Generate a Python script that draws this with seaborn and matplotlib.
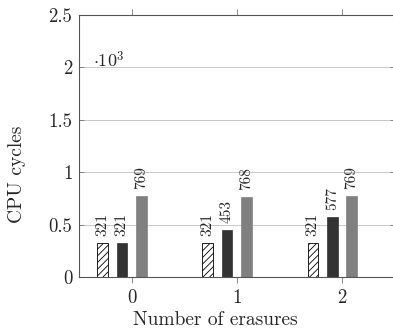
import pandas as pd
import matplotlib
matplotlib.use('Agg')
import matplotlib.pyplot as plt
from matplotlib.ticker import FuncFormatter
import seaborn as sns

# Datos (ciclos de CPU)
erasures = [0, 1, 2]
series_names = ['series 1', 'series 2', 'series 3']
hatched_cycles = [321, 321, 321]
dark_cycles = [321, 453, 577]
gray_cycles = [769, 768, 769]
y_ticks = [0, 500, 1000, 1500, 2000, 2500]

sns.set_style('white')
plt.rcParams['font.family'] = ['serif']
plt.rcParams['font.serif'] = ['cmr10']
plt.rcParams['mathtext.fontset'] = 'cm'
plt.rcParams['axes.formatter.use_mathtext'] = True
plt.rcParams['hatch.linewidth'] = 0.6

# Tabla larga para seaborn
rows = []
for name, values in zip(series_names, [hatched_cycles, dark_cycles, gray_cycles]):
    for e, v in zip(erasures, values):
        rows.append({'erasures': e, 'cycles': v, 'serie': name})
df = pd.DataFrame(rows)

# cuarta serie vacia: pgfplots reserva su hueco
hue_order = series_names + ['series 4']
palette = {'series 1': 'white', 'series 2': '#333333', 'series 3': '#808080', 'series 4': 'white'}

fig = plt.figure(figsize=(3.93, 3.30), dpi=100)
ax = fig.add_axes([79 / 393, 53 / 330, 315.5 / 393, 262 / 330])

sns.barplot(data=df, x='erasures', y='cycles', hue='serie', hue_order=hue_order,
            palette=palette, saturation=1, width=0.736, gap=0.445, legend=False, ax=ax)

for i, cont in enumerate(ax.containers):
    for p in cont:
        if i == 0:
            p.set_facecolor('white')
            p.set_edgecolor('black')
            p.set_linewidth(0.6)
            p.set_hatch('/////')
        else:
            p.set_edgecolor(p.get_facecolor())
            p.set_linewidth(0.5)
    ax.bar_label(cont, fmt='%d', rotation=90, padding=5, fontsize=11)

ax.set_xlim(-0.5, 2.5)
ax.set_ylim(0, 2500)
ax.set_yticks(y_ticks)
ax.yaxis.set_major_formatter(FuncFormatter(lambda v, pos: f'{v / 1000:g}'))
ax.grid(axis='y', color='#c8c8c8', linewidth=0.7)
ax.set_axisbelow(True)

ax.tick_params(axis='x', direction='out', length=4.5, width=0.6, color='#777777',
               top=True, bottom=True, labelsize=13.5, pad=4)
ax.tick_params(axis='y', direction='in', length=3.5, width=0.6, color='#777777',
               left=True, right=True, labelsize=13.5, pad=4.8)
for s in ax.spines.values():
    s.set_color('#555555')
    s.set_linewidth(0.8)
ax.spines['right'].set_visible(False)

ax.set_xlabel('Number of erasures', fontsize=14)
ax.set_ylabel('CPU cycles', fontsize=14)
ax.xaxis.set_label_coords(0.431, -0.166)
ax.xaxis.label.set_va('center')
ax.yaxis.set_label_coords(-0.195, 0.393)
ax.yaxis.label.set_va('center')
ax.text(0.044, 0.80, r'$\cdot 10^3$', transform=ax.transAxes, fontsize=13, va='baseline')

fig.savefig('out.png', dpi=100)
